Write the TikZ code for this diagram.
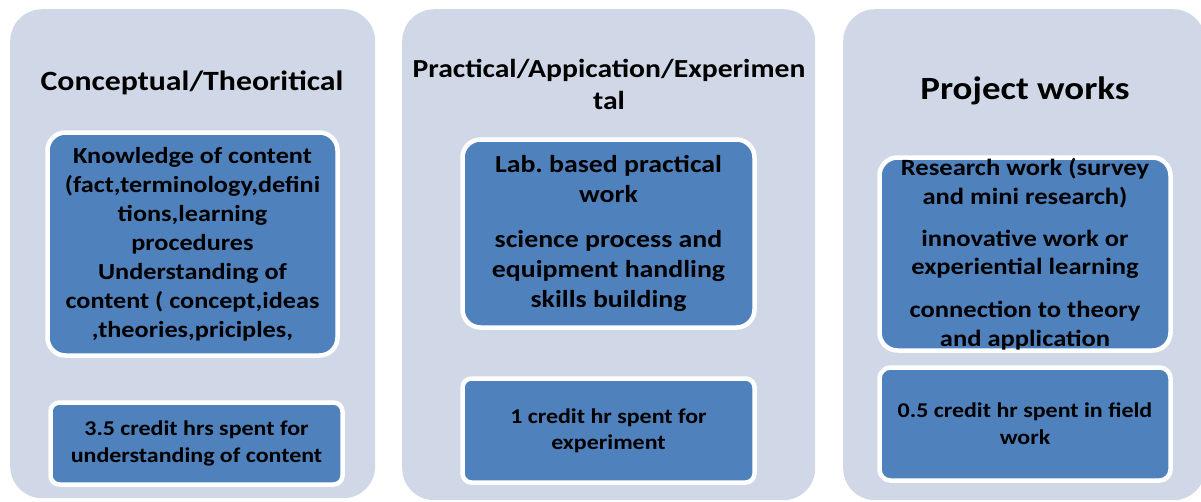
\documentclass[tikz,border=0pt]{standalone}
\usepackage{fontspec}
\setmainfont{Carlito}[FakeStretch=1.14]
\frenchspacing
\definecolor{panelfill}{RGB}{208,216,232}
\definecolor{boxfill}{RGB}{79,129,189}
\begin{document}
\begin{tikzpicture}[x=1pt,y=-1pt,
  panel/.style={draw=none,fill=panelfill,rounded corners=32pt,inner sep=0pt,anchor=north west},
  title/.style={align=center,inner sep=0pt},
  bigbox/.style={draw=white,line width=4.5pt,fill=boxfill,rounded corners=18pt,inner sep=0pt,align=center},
  smallbox/.style={draw=white,line width=4.5pt,fill=boxfill,rounded corners=9pt,inner sep=0pt,align=center,font=\bfseries\fontsize{21}{27}\selectfont}
]
\useasboundingbox (0,0) rectangle (1201,501);
\begin{scope}
\clip (0,0) rectangle (1201,501);
\node[panel,minimum width=365pt,minimum height=489pt] (p1) at (10,9) {};
\node[panel,minimum width=413pt,minimum height=491pt] (p2) at (402,9) {};
\node[panel,minimum width=362pt,minimum height=491pt] (p3) at (843,9) {};
\end{scope}
\node[title,font=\bfseries\fontsize{27.9}{32}\selectfont] (t1) at (192,83) {Conceptual/Theoritical};
\node[title,font=\bfseries\fontsize{26}{32}\selectfont] (t2) at (609,84) {Practical/Appication/Experimen\\tal};
\node[title,font=\bfseries\fontsize{32.4}{36}\selectfont] (t3) at (1025,91) {Project works};
\node[bigbox,font=\bfseries\fontsize{23}{29}\selectfont,minimum width=290pt,minimum height=223pt] (b1) at (192.5,244)
 {Knowledge of content\\(fact,terminology,defini\\tions,learning\\procedures\\Understanding of\\content ( concept,ideas\\,theories,priciples,};
\node[smallbox,minimum width=292pt,minimum height=82pt] (c1) at (196.5,443.5)
 {3.5 credit hrs spent for\\understanding of content};
\node[bigbox,font=\bfseries\fontsize{24.4}{30}\selectfont,minimum width=292pt,minimum height=188pt] (b2) at (608.5,233.5)
 {Lab. based practical\\work\\[15pt]science process and\\equipment handling\\skills building};
\node[smallbox,font=\bfseries\fontsize{21}{26}\selectfont,minimum width=292pt,minimum height=104pt] (c2) at (608.5,430.5)
 {1 credit hr spent for\\experiment};
\node[bigbox,font=\bfseries\fontsize{23.3}{28.5}\selectfont,minimum width=291pt,minimum height=193pt] (b3) at (1025,254)
 {Research work (survey\\and mini research)\\[13.5pt]innovative work or\\experiential learning\\[14.5pt]connection to theory\\and application};
\node[smallbox,minimum width=291pt,minimum height=113pt,rounded corners=11pt] (c3) at (1025,424)
 {0.5 credit hr spent in field\\work};
\end{tikzpicture}
\end{document}
